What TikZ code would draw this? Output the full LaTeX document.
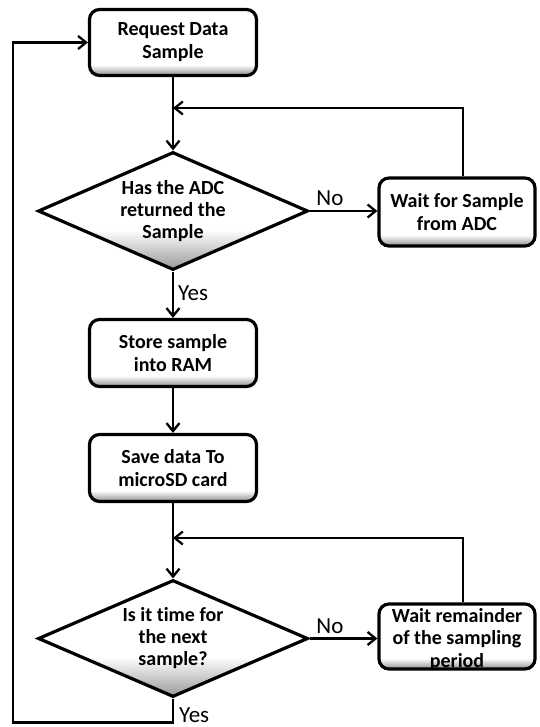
\documentclass[tikz,border=0pt]{standalone}
\usepackage{fontspec}
\setmainfont{Carlito}[Ligatures=NoCommon]
\usetikzlibrary{shapes.geometric,arrows.meta}
\pgfdeclareverticalshading{boxshade}{100bp}{color(0bp)=(black!45); color(25bp)=(black!45); color(33bp)=(white); color(100bp)=(white)}
\pgfdeclareverticalshading{diashade}{100bp}{color(0bp)=(black!40); color(25bp)=(black!40); color(42bp)=(white); color(100bp)=(white)}
\begin{document}
\begin{tikzpicture}[x=1pt,y=-1pt,
  box/.style={draw=black, line width=3.2pt, rounded corners=10pt, shading=boxshade,
    font=\bfseries\fontsize{20}{23}\selectfont, align=center, inner sep=0pt},
  dia/.style={draw=black, line width=3.2pt, diamond, shading=diashade, aspect=2.29,
    font=\bfseries\fontsize{20}{22}\selectfont, align=center, inner sep=0pt},
  boxtext/.style={font=\bfseries\fontsize{20}{22.5}\selectfont, align=center, inner sep=0pt},
  lbl/.style={font=\fontsize{23}{25}\selectfont, inner sep=0pt},
  arr/.style={line width=2.3pt, -{Straight Barb[length=8pt,width=13pt,line width=2.3pt]}}]
\useasboundingbox (0,0) rectangle (539,727);
\node[box, minimum width=167, minimum height=66] (req) at (173,42.5) {Request Data\\Sample};
\node[dia, minimum width=270, minimum height=118] (d1) at (173,211) {Has the ADC\\returned the\\Sample};
\node[box, minimum width=156, minimum height=68] (w1) at (457,212) {Wait for Sample\\from ADC};
\node[box, minimum width=167, minimum height=67] (st) at (173,353) {Store sample\\into RAM};
\node[box, minimum width=167, minimum height=67] (sv) at (173,468) {Save data To\\microSD card};
\node[dia, minimum width=270, minimum height=117] (d2) at (173,638.5) {Is it time for\\the next\\sample?};
\node[box, minimum width=156, minimum height=65] (w2) at (457,636.5) {};
\node[boxtext, yshift=-3pt] (w2t) at (w2.center) {Wait remainder\\of the sampling\\period};
\coordinate (m1) at (173,108);
\coordinate (m2) at (173,538);
\coordinate (b1) at (463,108);
\coordinate (b2) at (463,538);
\coordinate (c1) at (173,722.5);
\coordinate (c2) at (13,722.5);
\coordinate (c3) at (13,42.5);
\draw[arr] (req.south) -- (d1.north);
\draw[arr] (w1.north -| b1) -- (b1) -- (m1);
\draw[arr] (d1.east) -- node[lbl, pos=0.3, anchor=base, yshift=5pt] {No} (d1.east -| w1.west);
\draw[arr] (d1.south) -- node[lbl, pos=0.62, anchor=base west, xshift=4pt] {Yes} (st.north);
\draw[arr] (st.south) -- (sv.north);
\draw[arr] (sv.south) -- (d2.north);
\draw[arr] (w2.north -| b2) -- (b2) -- (m2);
\draw[arr] (d2.east) -- node[lbl, pos=0.3, anchor=base, yshift=5pt] {No} (d2.east -| w2.west);
\draw[arr] (d2.south) -- (c1) -- (c2) -- (c3) -- (req.west);
\node[lbl, anchor=base west, xshift=6pt] (yes2) at (c1) {Yes};
\end{tikzpicture}
\end{document}
